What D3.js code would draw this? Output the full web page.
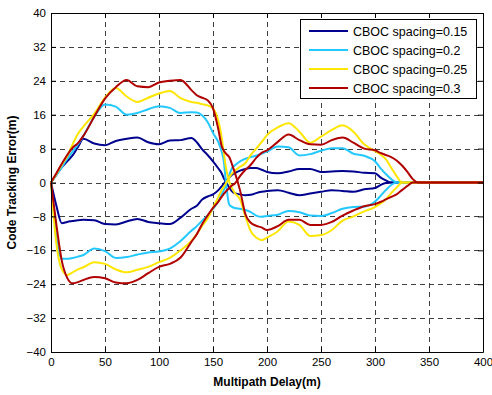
<!DOCTYPE html>
<html>
<head>
<meta charset="utf-8">
<script src="https://cdn.jsdelivr.net/npm/d3@7"></script>
<style>
  html, body { margin: 0; padding: 0; background: #fff; }
  svg { display: block; font-family: "Liberation Sans", Arial, sans-serif; }
</style>
</head>
<body>
<svg id="chart" width="492" height="395"></svg>
<script>
// Multipath delay samples (m)
const delay = [0,5,10,15,20,25,30,40,50,60,70,80,90,100,110,120,130,135,140,145,150,155,158,160,162,165,168,170,175,180,185,190,195,200,210,220,230,240,250,260,270,280,290,300,305,310,315,320,325,330,335,340,350,400];

// Code tracking error envelopes (m): in-phase and out-of-phase multipath per spacing
const err015In  = [0,1.8,3.6,5.0,6.4,8.4,10.3, 9.2,8.8,9.8,10.3,10.6,9.5,9.0,9.9,10.0,10.5, 9.5,7.8,6.5,5.0,3.3, 2.2,1.0,0.2,-1.2,-2.2,-2.5, -2.8,-3.0,-2.9,-2.5,-2.2,-2.0, -1.8,-2.4,-3.0,-2.6,-2.2,-1.8,-2.0,-2.2,-1.6,-1.3, -0.6,-0.1,0,0,0,0,0,0, 0,0];
const err015Out = [0,-5.5,-9.6,-9.3,-9.1,-8.9,-8.8, -8.9,-9.8,-9.9,-9.2,-8.6,-9.3,-9.6,-9.8,-8.3,-6.2, -5.5,-4.0,-3.3,-2.8,-1.8, -0.9,-0.3,0.3,1.2,1.9,2.2, 2.8,3.2,3.4,3.4,3.0,2.5, 2.2,2.6,3.2,3.2,2.5,2.6,2.7,2.6,2.3,2.2, 1.2,0.5,0,0,0,0,0,0, 0,0];
const err020In  = [0,1.8,3.6,5.6,7.3,9.0,11.0, 15.5,18.4,17.9,16.0,16.4,17.3,18.0,17.6,16.4,16.6, 16.5,15.8,14.3,11.7,9.5, 7.3,5.0,0.0,-5.2,-5.8,-6.0, -6.2,-6.5,-7.0,-7.8,-8.1,-7.9, -7.6,-6.7,-7.0,-7.8,-7.9,-7.2,-6.2,-5.8,-5.7,-4.5, -3.2,-1.8,-0.6,0,0,0,0,0, 0,0];
const err020Out = [0,-13.0,-18.0,-18.0,-17.8,-17.5,-17.1, -15.6,-16.2,-17.8,-17.6,-17.0,-16.5,-16.3,-15.6,-13.8,-11.4, -10.3,-9.0,-7.8,-6.3,-4.4, -2.8,-1.8,-0.5,1.8,3.5,4.0, 5.0,5.6,6.0,6.3,6.8,7.3, 8.5,8.3,6.4,6.7,7.5,8.1,8.1,6.8,6.3,5.0, 3.4,2.0,0.8,0,0,0,0,0, 0,0];
const err025In  = [0,2.0,4.2,6.2,9.0,11.5,13.2, 16.2,20.0,22.3,20.3,19.0,20.0,21.0,21.6,19.9,19.0, 18.8,18.5,18.2,17.5,14.5, 10.7,7.0,3.5,0.2,-1.5,-2.4, -4.0,-8.0,-11.5,-13.0,-13.6,-13.0, -11.5,-9.2,-10.0,-12.6,-12.4,-11.2,-9.0,-8.0,-6.8,-5.8, -5.0,-4.0,-2.5,-1.2,0,0,0,0, 0,0];
const err025Out = [0,-14.5,-20.5,-21.8,-21.2,-20.5,-20.0, -18.8,-19.2,-20.5,-21.2,-20.6,-19.9,-18.8,-17.8,-16.0,-13.8, -12.2,-10.2,-8.5,-6.0,-3.4, -1.8,-1.0,-0.2,1.2,2.2,2.7, 3.7,4.6,6.5,8.0,9.5,11.2, 13.0,14.0,12.0,9.4,10.8,12.4,13.5,12.0,9.0,7.4, 6.6,5.5,3.5,1.5,0,0,0,0, 0,0];
const err030In  = [0,2.2,4.4,6.5,8.2,9.3,11.0, 15.5,19.8,22.5,24.2,22.7,22.5,23.6,24.0,24.2,21.8, 20.6,20.0,19.4,17.5,12.5, 8.6,7.5,6.8,6.0,4.0,2.5, -1.8,-7.5,-9.5,-10.2,-10.6,-11.2, -10.3,-8.8,-8.8,-10.0,-10.0,-9.3,-7.8,-6.6,-5.6,-5.1, -4.6,-4.0,-3.4,-2.8,-1.8,-0.8,0,0, 0,0];
const err030Out = [0,-10.0,-18.5,-22.5,-23.8,-23.5,-23.0, -22.3,-22.6,-23.6,-23.8,-23.0,-21.4,-19.9,-19.2,-17.7,-14.0, -12.2,-9.8,-7.8,-6.0,-4.5, -3.4,-2.7,-2.1,-1.3,-0.6,-0.3, 1.5,3.0,4.2,5.8,7.0,7.6, 9.6,11.3,10.0,9.0,8.9,10.0,10.6,9.4,8.0,7.6, 7.0,6.5,6.0,5.2,4.0,2.5,0.8,0, 0,0];

const seriesNames = ["CBOC spacing=0.15", "CBOC spacing=0.2", "CBOC spacing=0.25", "CBOC spacing=0.3"];
const seriesColors = ["#00008f", "#22c8ff", "#ffe600", "#b00000"];
const seriesData = [[err015In, err015Out], [err020In, err020Out], [err025In, err025Out], [err030In, err030Out]];

const xTicks = [0,50,100,150,200,250,300,350,400];
const yTicks = [-40,-32,-24,-16,-8,0,8,16,24,32,40];

(function draw() {
  const svg = d3.select("#chart");
  const plotLeft = 51, plotRight = 483, plotTop = 13, plotBottom = 352;

  const x = d3.scaleLinear().domain([0, 400]).range([plotLeft, plotRight]);
  const y = d3.scaleLinear().domain([-40, 40]).range([plotBottom, plotTop]);

  svg.append("rect").attr("width", 492).attr("height", 395).attr("fill", "#fff");

  // Dashed grid
  const grid = svg.append("g").attr("stroke", "#404040").attr("stroke-width", 1).attr("stroke-dasharray", "5,4");
  grid.selectAll(".gx").data(xTicks.slice(1, -1)).join("line")
    .attr("x1", d => Math.round(x(d)) + 0.5).attr("x2", d => Math.round(x(d)) + 0.5)
    .attr("y1", plotTop).attr("y2", plotBottom);
  grid.selectAll(".gy").data(yTicks.slice(1, -1)).join("line")
    .attr("y1", d => Math.round(y(d)) + 0.5).attr("y2", d => Math.round(y(d)) + 0.5)
    .attr("x1", plotLeft).attr("x2", plotRight);

  // Error curves
  const line = d3.line().x((d, i) => x(delay[i])).y(d => y(d)).curve(d3.curveMonotoneX);
  const curves = svg.append("g").attr("fill", "none").attr("stroke-width", 2).attr("stroke-linejoin", "round");
  seriesData.forEach((pair, k) => {
    pair.forEach(vals => {
      curves.append("path").attr("d", line(vals)).attr("stroke", seriesColors[k]);
    });
  });

  // Axes with inward ticks on all four sides
  const fmt = d3.format("d");
  svg.append("g").attr("transform", `translate(0,${plotBottom})`)
    .call(d3.axisBottom(x).tickValues(xTicks).tickFormat(fmt).tickSize(-5).tickSizeOuter(0).tickPadding(6));
  svg.append("g").attr("transform", `translate(${plotLeft},0)`)
    .call(d3.axisLeft(y).tickValues(yTicks).tickFormat(fmt).tickSize(-5).tickSizeOuter(0).tickPadding(5));
  svg.append("g").attr("transform", `translate(0,${plotTop})`)
    .call(d3.axisTop(x).tickValues(xTicks).tickFormat("").tickSize(-5).tickSizeOuter(0));
  svg.append("g").attr("transform", `translate(${plotRight},0)`)
    .call(d3.axisRight(y).tickValues(yTicks).tickFormat("").tickSize(-5).tickSizeOuter(0));
  svg.selectAll(".tick text").attr("font-size", "11.5px").attr("font-family", "Liberation Sans, Arial, sans-serif").attr("fill", "#000");
  svg.selectAll(".domain, .tick line").attr("stroke", "#000");

  // Axis titles
  svg.append("text").attr("x", (plotLeft + plotRight) / 2).attr("y", 386).attr("text-anchor", "middle")
    .attr("font-size", "12px").attr("font-weight", "bold").text("Multipath Delay(m)");
  svg.append("text").attr("transform", `translate(16,${(plotTop + plotBottom) / 2}) rotate(-90)`).attr("text-anchor", "middle")
    .attr("font-size", "12px").attr("font-weight", "bold").text("Code Tracking Error(m)");

  // Legend
  const lg = svg.append("g");
  lg.append("rect").attr("x", 300.5).attr("y", 19.5).attr("width", 176).attr("height", 79)
    .attr("fill", "#fff").attr("stroke", "#000").attr("stroke-width", 1);
  seriesNames.forEach((name, k) => {
    const yy = 31 + k * 19;
    lg.append("line").attr("x1", 309).attr("x2", 348).attr("y1", yy).attr("y2", yy)
      .attr("stroke", seriesColors[k]).attr("stroke-width", 2);
    lg.append("text").attr("x", 353).attr("y", yy).attr("dy", "0.36em")
      .attr("font-size", "12.5px").text(name);
  });
})();
</script>
</body>
</html>
